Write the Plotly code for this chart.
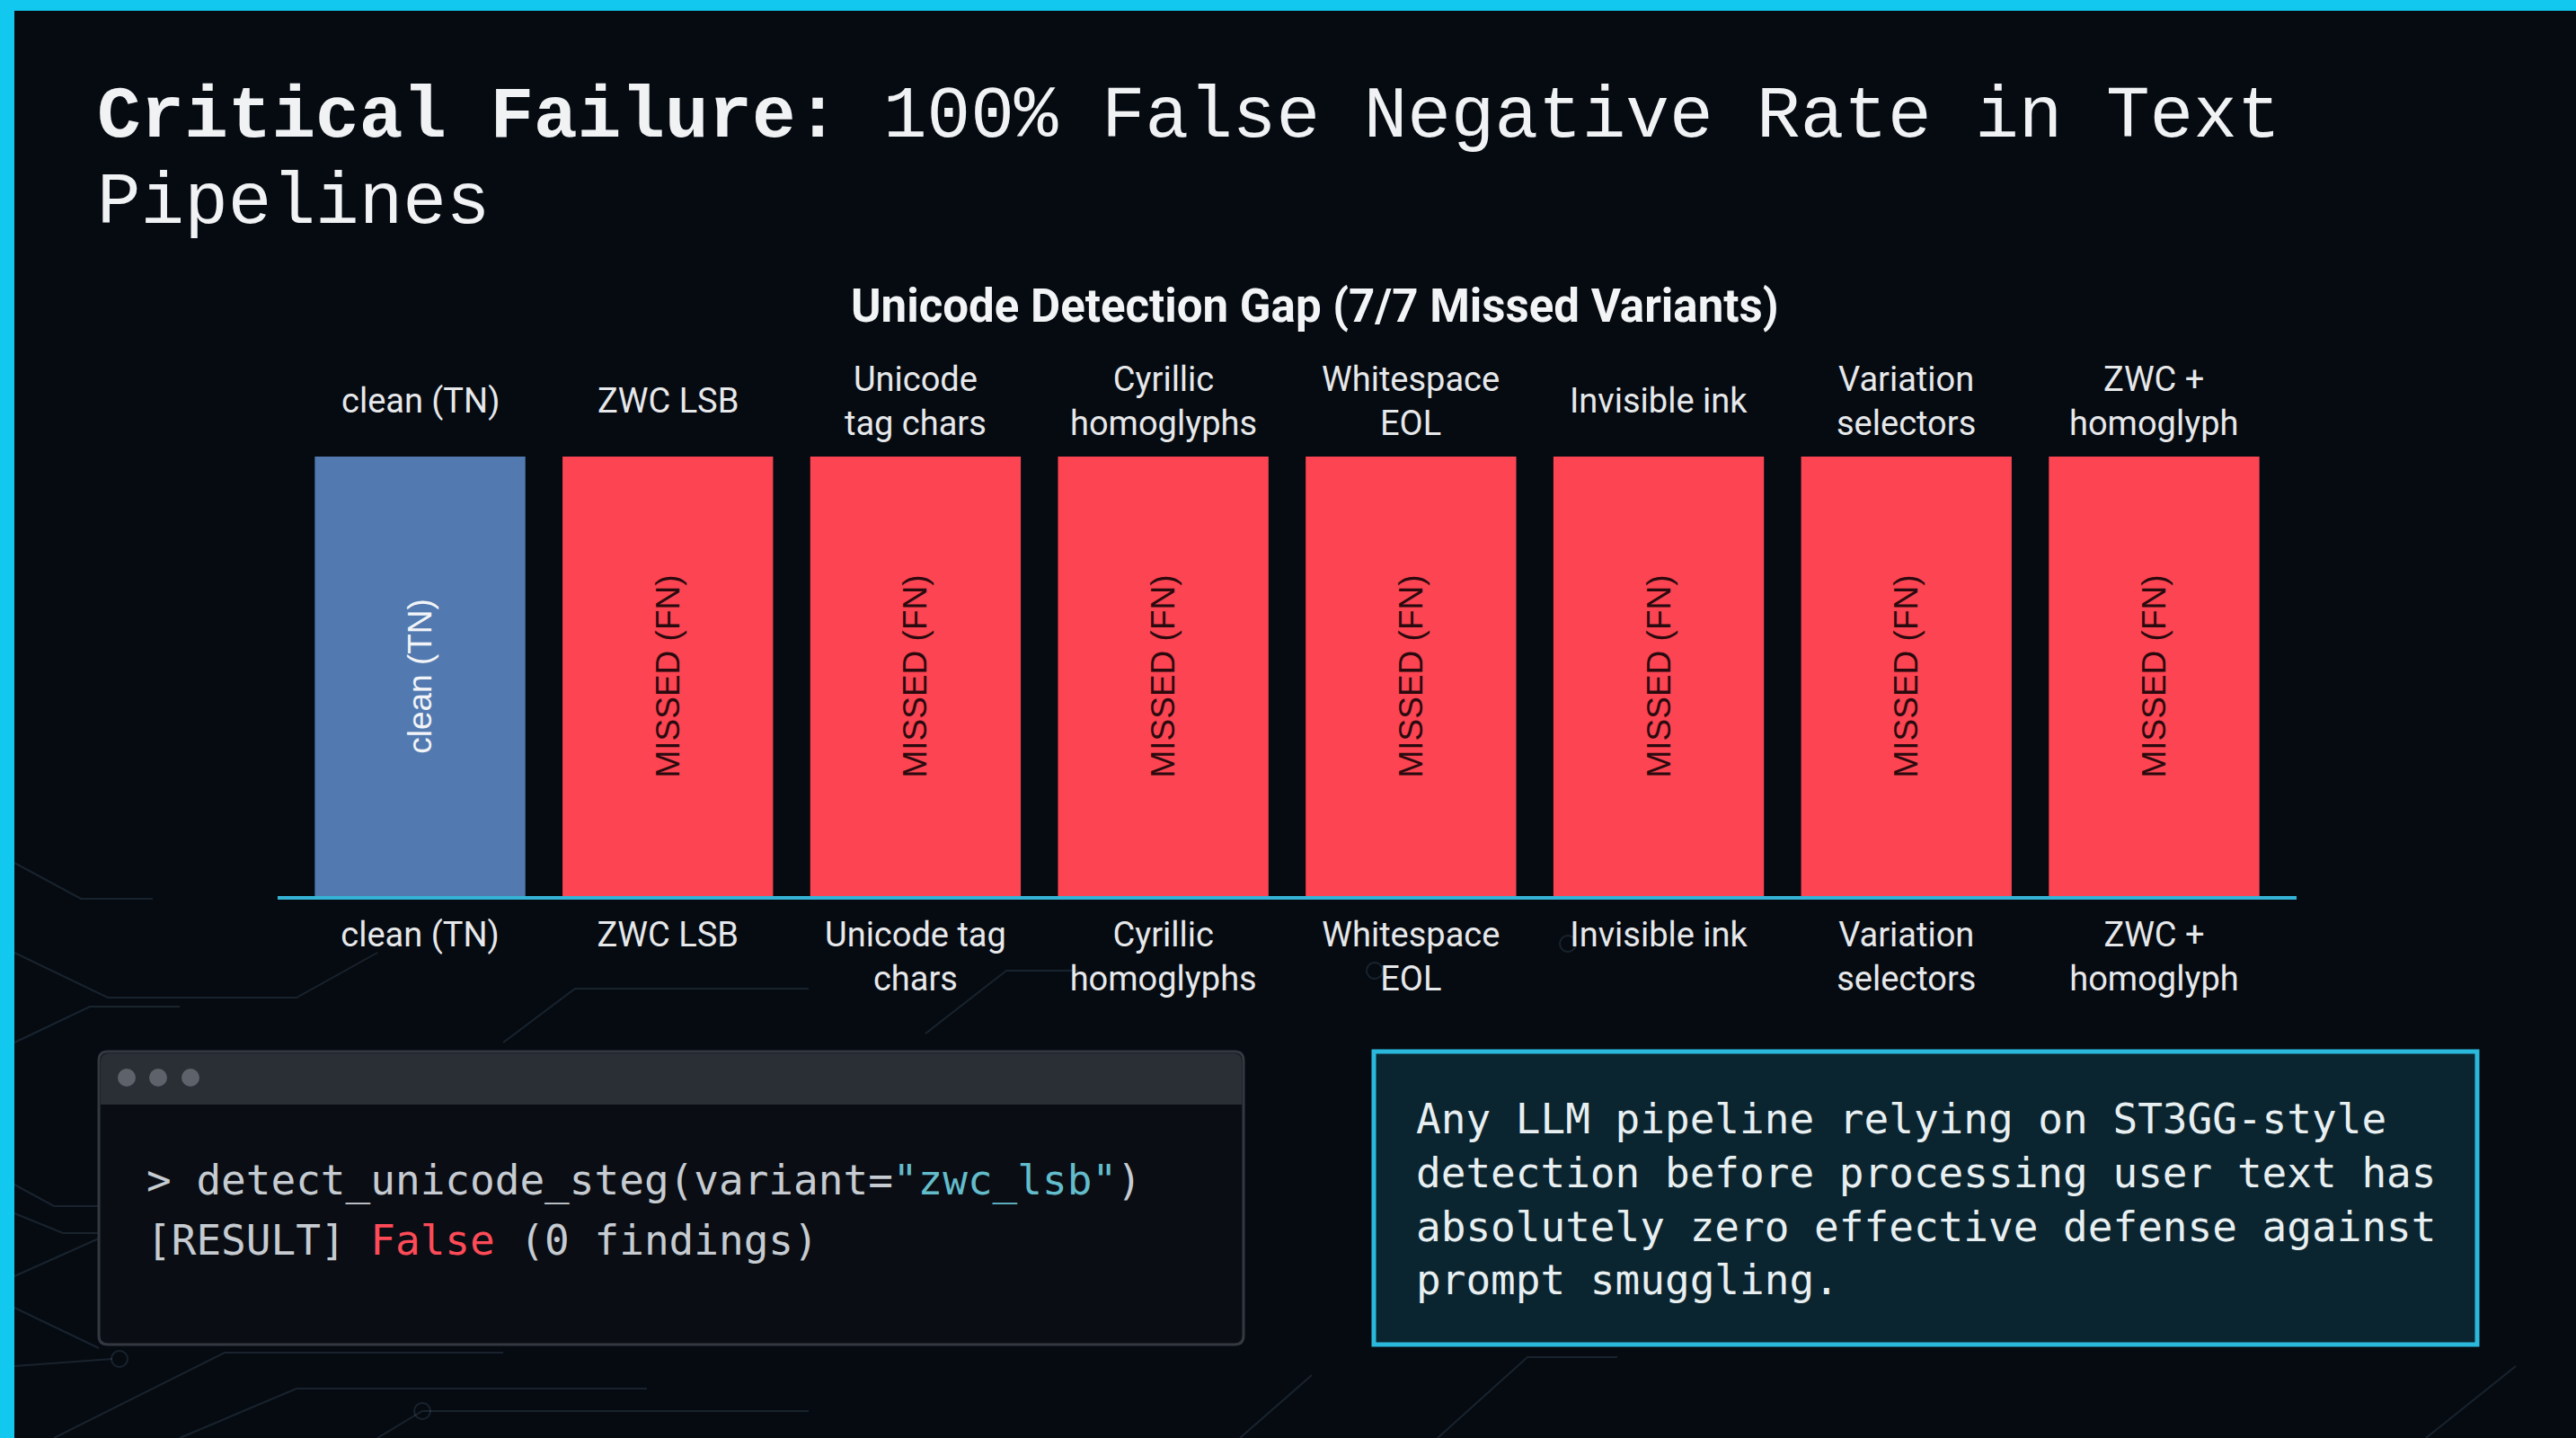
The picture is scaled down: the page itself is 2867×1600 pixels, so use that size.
import plotly.graph_objects as go

W, H = 2867, 1600

# ---------------- data ----------------
categories = ["clean (TN)", "ZWC LSB", "Unicode tag chars", "Cyrillic homoglyphs",
              "Whitespace EOL", "Invisible ink", "Variation selectors", "ZWC + homoglyph"]
bottom_labels = ["clean (TN)", "ZWC LSB", "Unicode tag<br>chars", "Cyrillic<br>homoglyphs",
                 "Whitespace<br>EOL", "Invisible ink", "Variation<br>selectors", "ZWC +<br>homoglyph"]
top_labels = ["clean (TN)", "ZWC LSB", "Unicode<br>tag chars", "Cyrillic<br>homoglyphs",
              "Whitespace<br>EOL", "Invisible ink", "Variation<br>selectors", "ZWC +<br>homoglyph"]
outcome = ["clean (TN)", "MISSED (FN)", "MISSED (FN)", "MISSED (FN)",
           "MISSED (FN)", "MISSED (FN)", "MISSED (FN)", "MISSED (FN)"]
bar_value = [1, 1, 1, 1, 1, 1, 1, 1]

title_bold = "Critical Failure:"
title_rest = "100% False Negative Rate in Text"
title_line2 = "Pipelines"
chart_title = "Unicode Detection Gap (7/7 Missed Variants)"
term_line1 = '> detect_unicode_steg(variant=<span style="color:#63bccb">"zwc_lsb"</span>)'
term_line2 = '[RESULT] <span style="color:#ff4a58">False</span> (0 findings)'
callout = ("Any LLM pipeline relying on ST3GG-style<br>"
           "detection before processing user text has<br>"
           "absolutely zero effective defense against<br>"
           "prompt smuggling.")

# ---------------- style ----------------
BG = "#060b12"
BLUE = "#527ab0"
RED = "#fc4452"
CYAN = "#12c8ef"
AXIS = "#35b3d6"
LABEL = "#e6e8ea"
TRACE = "rgba(95,125,140,0.22)"
SANS = "Roboto, 'Liberation Sans', Arial, sans-serif"
MONO = "'DejaVu Sans Mono', monospace"
TITLE_MONO = "'Liberation Mono', 'DejaVu Sans Mono', monospace"


def px(x):
    return x / W


def py(y):
    return 1 - y / H


def rrect(x0, y0, x1, y1, r, top_only=False):
    X0, X1 = px(x0), px(x1)
    Y0, Y1 = py(y0), py(y1)
    rx, ry = r / W, r / H
    if top_only:
        return (f"M{X0},{Y1} L{X0},{Y0 - ry} Q{X0},{Y0} {X0 + rx},{Y0} "
                f"L{X1 - rx},{Y0} Q{X1},{Y0} {X1},{Y0 - ry} L{X1},{Y1} Z")
    return (f"M{X0 + rx},{Y0} L{X1 - rx},{Y0} Q{X1},{Y0} {X1},{Y0 - ry} "
            f"L{X1},{Y1 + ry} Q{X1},{Y1} {X1 - rx},{Y1} L{X0 + rx},{Y1} "
            f"Q{X0},{Y1} {X0},{Y1 + ry} L{X0},{Y0 - ry} Q{X0},{Y0} {X0 + rx},{Y0} Z")


def polyline(pts):
    return "M" + " L".join(f"{px(a)},{py(b)}" for a, b in pts)


bar_colors = [BLUE if o.startswith("clean") else RED for o in outcome]
text_colors = ["#f2f4f7" if o.startswith("clean") else "#2a0a0e" for o in outcome]

fig = go.Figure()
fig.add_trace(go.Bar(
    x=categories, y=bar_value, width=0.85,
    marker=dict(color=bar_colors, line=dict(width=0)),
    text=outcome, textposition="inside", insidetextanchor="middle",
    textangle=-90, constraintext="none",
    textfont=dict(family="'Liberation Sans', Arial, sans-serif", size=37, color=text_colors),
    hoverinfo="skip", showlegend=False,
))

shapes = []
# faint circuit traces in the background
traces = [
    [(16, 1318), (60, 1342), (110, 1342)],
    [(16, 1350), (70, 1372), (110, 1372)],
    [(16, 1420), (110, 1378)],
    [(16, 1455), (110, 1500)],
    [(16, 1520), (125, 1512)],
    [(60, 1600), (250, 1505), (560, 1505)],
    [(200, 1600), (330, 1545), (720, 1545)],
    [(420, 1600), (470, 1570), (900, 1570)],
    [(16, 960), (90, 1000), (170, 1000)],
    [(16, 1060), (120, 1110), (330, 1110), (420, 1060)],
    [(16, 1160), (100, 1120), (200, 1120)],
    [(560, 1160), (640, 1100), (900, 1100)],
    [(1030, 1150), (1120, 1080), (1200, 1080)],
    [(1380, 1600), (1460, 1530)],
    [(1600, 1600), (1700, 1510), (1800, 1510)],
    [(2700, 1600), (2800, 1520)],
]
for t in traces:
    shapes.append(dict(type="path", xref="paper", yref="paper", path=polyline(t),
                       line=dict(color=TRACE, width=2), layer="below"))
for cx, cy in [(133, 1512), (1530, 1080), (1745, 1050), (470, 1570)]:
    shapes.append(dict(type="circle", xref="paper", yref="paper",
                       x0=px(cx - 9), x1=px(cx + 9), y0=py(cy + 9), y1=py(cy - 9),
                       line=dict(color=TRACE, width=2), layer="below"))
# frame accents
shapes.append(dict(type="rect", xref="paper", yref="paper", x0=0, x1=1, y0=py(12), y1=1,
                   fillcolor=CYAN, line=dict(width=0), layer="below"))
shapes.append(dict(type="rect", xref="paper", yref="paper", x0=0, x1=px(16), y0=0, y1=1,
                   fillcolor=CYAN, line=dict(width=0), layer="below"))
# terminal window
shapes.append(dict(type="path", xref="paper", yref="paper", path=rrect(110, 1170, 1384, 1496, 10),
                   fillcolor="#0a0e14", line=dict(color="#343941", width=3), layer="below"))
shapes.append(dict(type="path", xref="paper", yref="paper",
                   path=rrect(112, 1172, 1382, 1229, 9, top_only=True),
                   fillcolor="#2a2e35", line=dict(width=0), layer="below"))
for cx in (141, 176, 212):
    shapes.append(dict(type="circle", xref="paper", yref="paper",
                       x0=px(cx - 10), x1=px(cx + 10), y0=py(1209), y1=py(1189),
                       fillcolor="#5d626b", line=dict(width=0), layer="below"))
# callout box
shapes.append(dict(type="rect", xref="paper", yref="paper",
                   x0=px(1529), x1=px(2757), y0=py(1496), y1=py(1170),
                   fillcolor="#0b2530", line=dict(color="#2ab9dc", width=5), layer="below"))

annotations = []
annotations.append(dict(xref="paper", yref="paper", x=px(106), y=py(130), xanchor="left", yanchor="middle",
                        text=f"<b>{title_bold}</b> {title_rest}", showarrow=False,
                        font=dict(family=TITLE_MONO, size=81, color="#f0f2f4")))
annotations.append(dict(xref="paper", yref="paper", x=px(106), y=py(227), xanchor="left", yanchor="middle",
                        text=title_line2, showarrow=False,
                        font=dict(family=TITLE_MONO, size=81, color="#f0f2f4")))
annotations.append(dict(xref="paper", yref="paper", x=px(1464), y=py(340), xanchor="center", yanchor="middle",
                        text=f"<b>{chart_title}</b>", showarrow=False,
                        font=dict(family=SANS, size=51, color="#f2f4f6")))
for cat, lab in zip(categories, top_labels):
    annotations.append(dict(xref="x", yref="paper", x=cat, y=py(446), xanchor="center", yanchor="middle",
                            text=lab, showarrow=False,
                            font=dict(family=SANS, size=38, color=LABEL)))
annotations.append(dict(xref="paper", yref="paper", x=px(161), y=py(1313), xanchor="left", yanchor="middle",
                        text=term_line1, showarrow=False,
                        font=dict(family=MONO, size=46, color="#c6cbd1")))
annotations.append(dict(xref="paper", yref="paper", x=px(161), y=py(1380), xanchor="left", yanchor="middle",
                        text=term_line2, showarrow=False,
                        font=dict(family=MONO, size=46, color="#c6cbd1")))
annotations.append(dict(xref="paper", yref="paper", x=px(1574), y=py(1334), xanchor="left", yanchor="middle",
                        align="left", text=callout, showarrow=False,
                        font=dict(family=MONO, size=46, color="#e8eff1")))

fig.update_layout(
    width=W, height=H, autosize=False,
    margin=dict(l=0, r=0, t=0, b=0, pad=0),
    paper_bgcolor=BG, plot_bgcolor="rgba(0,0,0,0)",
    showlegend=False,
    xaxis=dict(domain=[px(309), px(2556)], range=[-0.575, 7.575], type="category",
               tickvals=categories, ticktext=bottom_labels,
               showline=True, linecolor=AXIS, linewidth=4, showgrid=False, zeroline=False,
               ticks="", ticklabelstandoff=6,
               tickfont=dict(family=SANS, size=38, color=LABEL), fixedrange=True),
    yaxis=dict(domain=[py(997), py(508)], range=[0, 1], visible=False, fixedrange=True),
    shapes=shapes, annotations=annotations,
)

fig.write_html("out.html", config={"displayModeBar": False},
               post_script="document.body.style.margin='0';document.body.style.background='%s';" % BG)
